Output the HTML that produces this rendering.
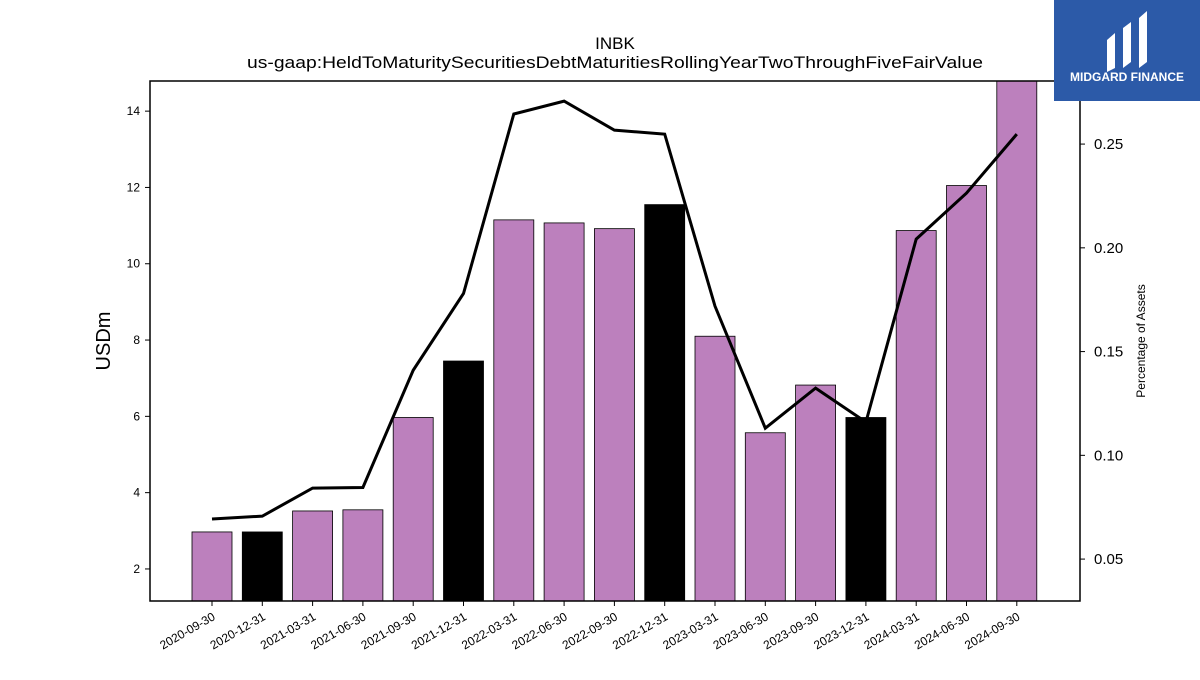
<!DOCTYPE html>
<html><head><meta charset="utf-8"><style>
body{margin:0;background:#fff;width:1200px;height:675px;overflow:hidden;font-family:"Liberation Sans",sans-serif}
</style></head><body>
<svg id="c" width="1200" height="675" xmlns="http://www.w3.org/2000/svg">
<text x="615" y="49" text-anchor="middle" font-size="17">INBK</text>
<text x="247" y="68" font-size="17" textLength="736" lengthAdjust="spacingAndGlyphs">us-gaap:HeldToMaturitySecuritiesDebtMaturitiesRollingYearTwoThroughFiveFairValue</text>
<g id="bars"></g><g id="line"></g><g id="axes"></g>
<rect x="150" y="81" width="930" height="520" fill="none" stroke="#000" stroke-width="1.5"/>
<text transform="translate(110,341) rotate(-90)" text-anchor="middle" font-size="20">USDm</text>
<text transform="translate(1145,341) rotate(-90)" text-anchor="middle" font-size="12">Percentage of Assets</text>
<g>
<rect x="1054" y="0" width="146" height="101" fill="#2c5aa8"/>
<path d="M1107 40 L1115 33 L1115 68 L1107 72 Z M1123 28 L1131 22 L1131 62 L1123 68 Z M1139 18 L1147 11 L1147 62 L1139 68 Z" fill="#fff"/>
<text x="1127" y="81" text-anchor="middle" font-size="12" font-weight="bold" fill="#fff">MIDGARD FINANCE</text>
</g>
</svg>
<script>
const categories=["2020-09-30","2020-12-31","2021-03-31","2021-06-30","2021-09-30","2021-12-31","2022-03-31","2022-06-30","2022-09-30","2022-12-31","2023-03-31","2023-06-30","2023-09-30","2023-12-31","2024-03-31","2024-06-30","2024-09-30"];
const barValues=[2.97,2.97,3.52,3.55,5.97,7.45,11.15,11.07,10.92,11.55,8.1,5.57,6.82,5.97,10.87,12.05,14.9];
const highlighted=[false,true,false,false,false,true,false,false,false,true,false,false,false,true,false,false,false];
const pctValues=[0.0693,0.0707,0.0842,0.0845,0.141,0.178,0.2645,0.2707,0.2567,0.2548,0.1719,0.1131,0.1324,0.116,0.2042,0.2264,0.2548];
const leftTicks=[2,4,6,8,10,12,14];
const rightTicks=[0.05,0.10,0.15,0.20,0.25];
const NS="http://www.w3.org/2000/svg";
const pTop=81,pBot=601,L=150,R=1080;
const yMin=1.16,yMax=14.79,pMin=0.0298,pMax=0.2804;
function y(v){return pBot-(v-yMin)/(yMax-yMin)*(pBot-pTop);}
function yp(p){return pBot-(p-pMin)/(pMax-pMin)*(pBot-pTop);}
const step=50.3,x0=212;
function x(i){return x0+i*step;}
function mk(t,a,p){const e=document.createElementNS(NS,t);for(const k in a)e.setAttribute(k,a[k]);p.appendChild(e);return e;}
const gb=document.getElementById('bars'),gl=document.getElementById('line'),ga=document.getElementById('axes');
barValues.forEach((v,i)=>{const yt=Math.max(y(v),pTop);
const r=mk('rect',{x:x(i)-20,y:yt,width:40,height:pBot-yt,fill:highlighted[i]?'#000':'#bc80bd',stroke:'#000','stroke-width':0.8},gb);


mk('line',{x1:x(i),x2:x(i),y1:pBot,y2:pBot+5,stroke:'#000'},ga);
const lb=mk('text',{transform:`translate(${x(i)+4},${pBot+18}) rotate(-30)`,'text-anchor':'end','font-size':12},ga);lb.textContent=categories[i];


});
const pl=mk('polyline',{points:pctValues.map((p,i)=>x(i)+','+yp(p)).join(' '),fill:'none',stroke:'#000','stroke-width':3},gl);


leftTicks.forEach(v=>{mk('line',{x1:L-5,x2:L,y1:y(v),y2:y(v),stroke:'#000'},ga);
const t=mk('text',{x:L-10,y:y(v)+4,'text-anchor':'end','font-size':12},ga);t.textContent=v;

});
rightTicks.forEach(v=>{mk('line',{x1:R,x2:R+5,y1:yp(v),y2:yp(v),stroke:'#000'},ga);
const t=mk('text',{x:R+14,y:yp(v)+5,'font-size':15},ga);t.textContent=v.toFixed(2);

});
</script>
</body></html>
